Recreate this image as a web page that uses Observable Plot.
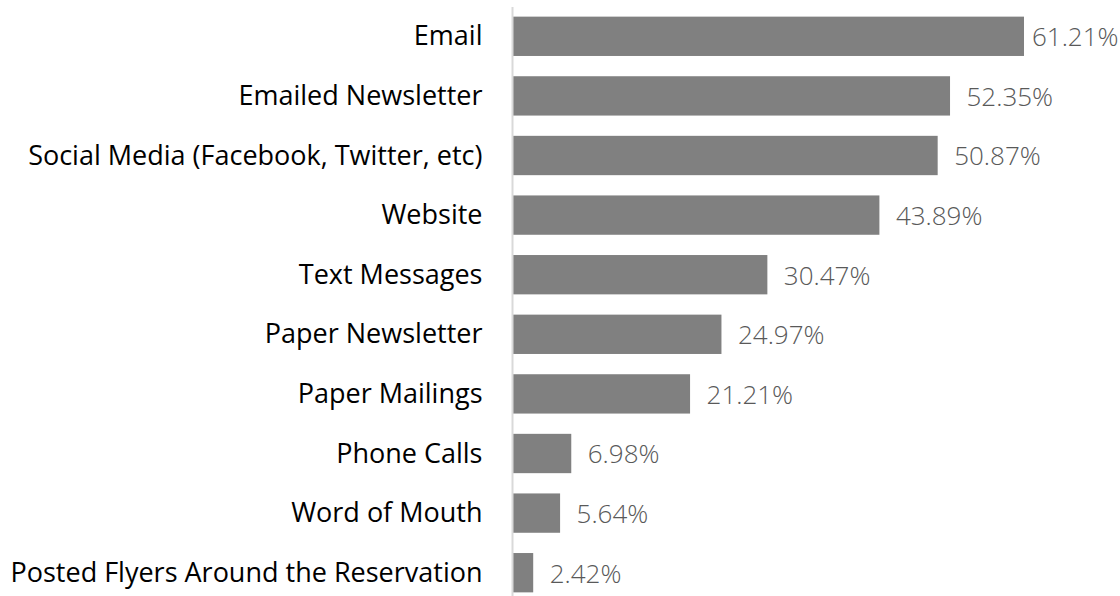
<!DOCTYPE html>
<html>
<head>
<meta charset="utf-8">
<script src="https://cdn.jsdelivr.net/npm/d3@7"></script>
<script src="https://cdn.jsdelivr.net/npm/@observablehq/plot@0.6"></script>
<style>
  html, body { margin: 0; padding: 0; background: #fff; }
  #chart svg { display: block; }
</style>
</head>
<body>
<div id="chart"></div>
<script>
const categories = [
  "Email",
  "Emailed Newsletter",
  "Social Media (Facebook, Twitter, etc)",
  "Website",
  "Text Messages",
  "Paper Newsletter",
  "Paper Mailings",
  "Phone Calls",
  "Word of Mouth",
  "Posted Flyers Around the Reservation"
];
const values = [61.21, 52.35, 50.87, 43.89, 30.47, 24.97, 21.21, 6.98, 5.64, 2.42];

const data = categories.map((c, i) => ({category: c, value: values[i]}));
const maxValue = d3.max(values);
const labelFmt = d => d.value.toFixed(2) + "%";

const chart = Plot.plot({
  width: 1120,
  height: 596,
  marginLeft: 513,
  marginRight: 0,
  marginTop: 7,
  marginBottom: 0,
  style: {background: "#fff", fontFamily: "'Open Sans', sans-serif", overflow: "visible"},
  x: {domain: [0, 72.71], axis: null},
  y: {domain: categories, range: [6.5, 602.5], paddingInner: 0.34, paddingOuter: 0.17, round: false, label: null},
  marks: [
    Plot.barX(data, {x: "value", y: "category", fill: "#808080"}),
    Plot.ruleX([0], {stroke: "#d9d9d9", strokeWidth: 2, dx: -1}),
    Plot.text(data.filter(d => d.value < maxValue), {
      x: "value", y: "category",
      text: labelFmt,
      textAnchor: "start", dx: 16, dy: 1,
      fill: "#595959", fontSize: 26, fontWeight: 300
    }),
    Plot.text(data.filter(d => d.value === maxValue), {
      y: "category", frameAnchor: "right",
      text: labelFmt,
      textAnchor: "end", dx: -2, dy: 1,
      fill: "#595959", fontSize: 26, fontWeight: 300
    }),
    Plot.axisY({
      tickSize: 0, tickPadding: 31, fontSize: 27,
      fill: "#000", label: null
    })
  ]
});
document.getElementById("chart").appendChild(chart);
</script>
</body>
</html>
